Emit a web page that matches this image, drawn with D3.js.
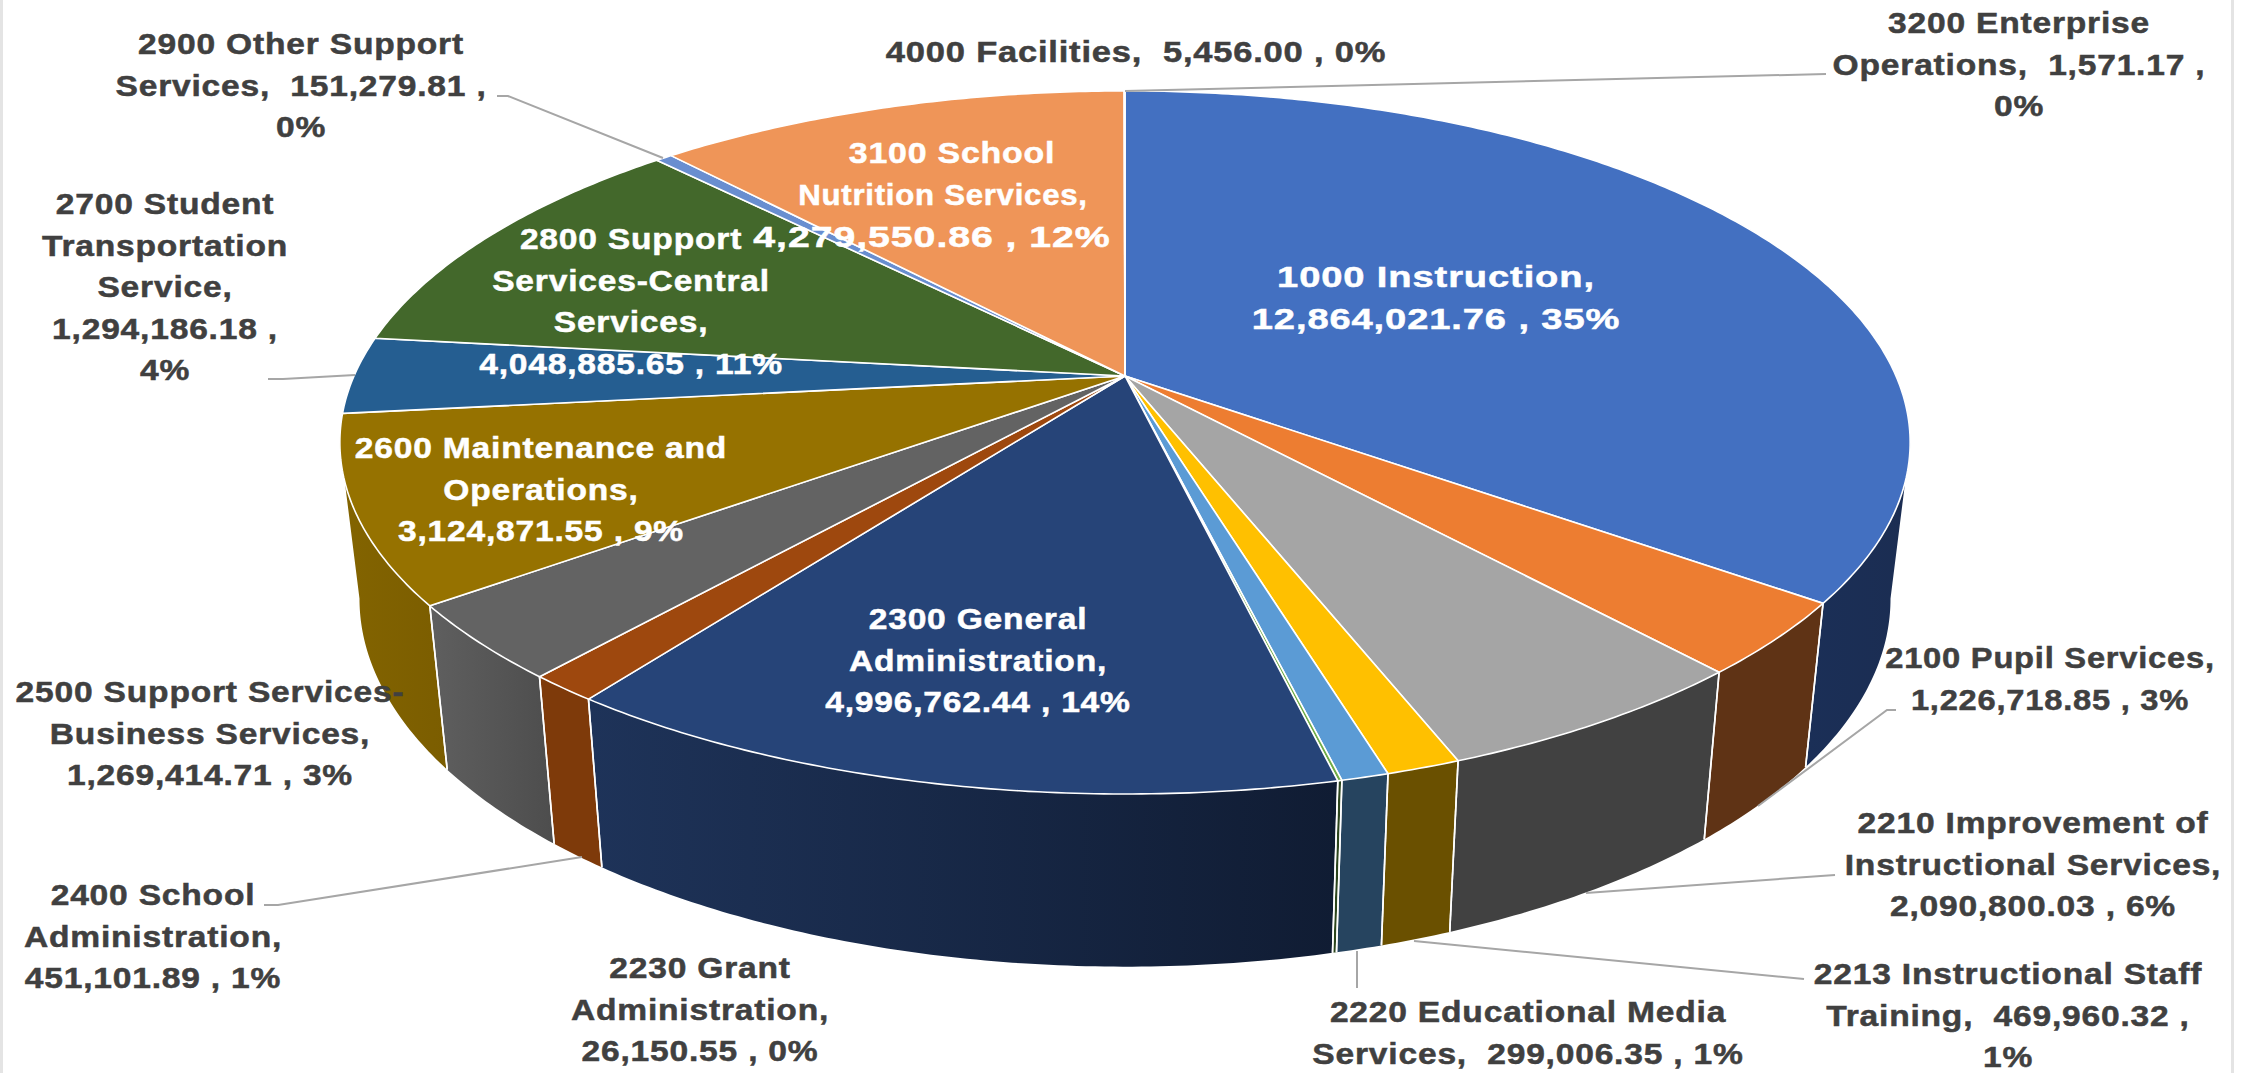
<!DOCTYPE html>
<html><head><meta charset="utf-8">
<script src="https://cdn.jsdelivr.net/npm/d3@7/dist/d3.min.js"></script>
<style>
html,body{margin:0;padding:0;background:#fff;overflow:hidden}
svg{display:block}
text{font-family:"Liberation Sans",Arial,sans-serif;font-weight:700;white-space:pre}
</style></head><body>
<svg id="chart" width="2252" height="1073"></svg>
<script>
// ---------- data ----------
const codes = ["1000 Instruction","2100 Pupil Services","2210 Improvement of Instructional Services","2213 Instructional Staff Training","2220 Educational Media Services","2230 Grant Administration","2300 General Administration","2400 School Administration","2500 Support Services-Business Services","2600 Maintenance and Operations","2700 Student Transportation Service","2800 Support Services-Central Services","2900 Other Support Services","3100 School Nutrition Services","3200 Enterprise Operations","4000 Facilities"];
const values = [12864021.76,1226718.85,2090800.03,469960.32,299006.35,26150.55,4996762.44,451101.89,1269414.71,3124871.55,1294186.18,4048885.65,151279.81,4279550.86,1571.17,5456.00];
const topColors = ["#4370c1","#ed7d31","#a5a5a5","#ffc000","#5b9bd5","#70ad47","#264478","#9e480e","#636363","#967200","#255e91","#43682b","#698ed0","#ef9558","#b7b7b7","#ffcd33"];
const wallLeft  = ["#1b2f57","#5f3315","#414141","#6a5000","#26445f","#2c451c","#1e3359","#7e3a0a","#5f5f5f","#836400","#255e91","#43682b","#698ed0","#f1975a","#b7b7b7","#ffcd33"];
const wallRight = ["#1b2d52","#5f3315","#414141","#6a5000","#26445f","#2c451c","#101c33","#7e3a0a","#4d4d4d","#7b5d00","#255e91","#43682b","#698ed0","#f1975a","#b7b7b7","#ffcd33"];
const labelLines = [
 ["1000 Instruction,","12,864,021.76 , 35%"],
 ["2100 Pupil Services,","1,226,718.85 , 3%"],
 ["2210 Improvement of","Instructional Services,","2,090,800.03 , 6%"],
 ["2213 Instructional Staff","Training,  469,960.32 ,","1%"],
 ["2220 Educational Media","Services,  299,006.35 , 1%"],
 ["2230 Grant","Administration,","26,150.55 , 0%"],
 ["2300 General","Administration,","4,996,762.44 , 14%"],
 ["2400 School","Administration,","451,101.89 , 1%"],
 ["2500 Support Services-","Business Services,","1,269,414.71 , 3%"],
 ["2600 Maintenance and","Operations,","3,124,871.55 , 9%"],
 ["2700 Student","Transportation","Service,","1,294,186.18 ,","4%"],
 ["2800 Support","Services-Central","Services,","4,048,885.65 , 11%"],
 ["2900 Other Support","Services,  151,279.81 ,","0%"],
 ["3100 School","Nutrition Services,","4,279,550.86 , 12%"],
 ["3200 Enterprise","Operations,  1,571.17 ,","0%"],
 ["4000 Facilities,  5,456.00 , 0%"]
];
const labelFill = ["#fff","#404040","#404040","#404040","#404040","#404040","#fff","#404040","#404040","#fff","#404040","#fff","#404040","#fff","#404040","#404040"];
// label placement (centre x, centre y of first line)
const labelX = [1436,2050,2033,2008,1528,700,978,153,210,541,165,631,301,944,2019,1136];
const labelY = [277,658,823,974,1012,968,619,895,692,448,204,239,44,153,23,52];
// per-label horizontal stretch of the type and per-line shift, where a label departs from the rest
const labelStretch = [1.27,1.09,1.12,1.12,1.12,1.12,1.12,1.12,1.12,1.12,1.12,1.12,1.12,1.12,1.12,1.15];
const lineStretch = {13:[1.13,1.04,1.31]};
const lineShift = {13:[8,-1,-12]};
const leaders = [
 [[497,96],[508,96],[663,158]],
 [[268,379],[283,379],[355,375]],
 [[264,905],[278,905],[582,857]],
 [[1896,710],[1887,710],[1758,806]],
 [[1835,875],[1586,893]],
 [[1804,979],[1414,941]],
 [[1357,988],[1357,951]],
 [[1826,74],[1125,91]]
];

// ---------- geometry ----------
const W = 2252, H = 1073;
const cx = 1125, cy = 376, k = 0.189, R = 771, S = 339;
const wallXScale = 0.975, wallYScale = 1.047, wallYShift = 153;
const TAU = Math.PI * 2;
const silhouette = Math.acos(-k);          // angle where the rim turns away

function rimTop(a){
  const y = -Math.cos(a), w = 1 - k*y;
  return [R*Math.sin(a)/w, S*y/w];
}
function rimBottom(a){
  const p = rimTop(a);
  return [p[0]*wallXScale, p[1]*wallYScale + wallYShift];
}
const xScale = d3.scaleLinear().domain([0,1]).range([cx,cx+1]);
const yScale = d3.scaleLinear().domain([0,1]).range([cy,cy+1]);
const line = d3.line().x(d=>xScale(d[0])).y(d=>yScale(d[1]));

const pie = d3.pie().sort(null).value(d=>d).startAngle(0).endAngle(TAU);
const arcs = pie(values);

function samples(a0,a1){
  const n = Math.max(2,Math.ceil((a1-a0)/0.01));
  return d3.range(n+1).map(i=>a0+(a1-a0)*i/n);
}

const svg = d3.select("#chart");
svg.append("rect").attr("width",W).attr("height",H).attr("fill","#fff");
svg.append("rect").attr("x",0).attr("y",0).attr("width",3).attr("height",H).attr("fill","#e4e4e4");
svg.append("rect").attr("x",2231).attr("y",0).attr("width",3).attr("height",H).attr("fill","#e4e4e4");

const defs = svg.append("defs");
const gW = svg.append("g").attr("class","walls");
const gT = svg.append("g").attr("class","tops");
const gL = svg.append("g").attr("class","leaders");
const gX = svg.append("g").attr("class","labels");

// visible walls only
const vis = arcs.map((d,i)=>({i,a0:Math.max(d.startAngle,silhouette),a1:Math.min(d.endAngle,TAU-silhouette)}))
  .filter(d=>d.a1>d.a0);
vis.forEach(d=>{
  const as = samples(d.a0,d.a1);
  const pts = as.map(rimTop).concat(as.slice().reverse().map(rimBottom));
  const xs = pts.map(p=>xScale(p[0]));
  const id = "wall"+d.i;
  const g = defs.append("linearGradient").attr("id",id).attr("gradientUnits","userSpaceOnUse")
    .attr("x1",d3.min(xs)).attr("x2",d3.max(xs)).attr("y1",0).attr("y2",0);
  g.append("stop").attr("offset",0).attr("stop-color",wallLeft[d.i]);
  g.append("stop").attr("offset",1).attr("stop-color",wallRight[d.i]);
  gW.append("path").attr("d",line(pts)+"Z").attr("fill",`url(#${id})`).attr("stroke","none");
});
vis.forEach(d=>{
  [d.a0,d.a1].forEach(a=>{
    if(a===silhouette||a===TAU-silhouette) return;
    gW.append("path").attr("d",line([rimTop(a),rimBottom(a)])).attr("stroke","#fff").attr("stroke-width",1.6).attr("fill","none");
  });
});

// top faces
arcs.forEach((d,i)=>{
  const pts = [[0,0]].concat(samples(d.startAngle,d.endAngle).map(rimTop));
  gT.append("path").attr("d",line(pts)+"Z").attr("fill",topColors[i])
    .attr("stroke","#fff").attr("stroke-width",1.6).attr("stroke-linejoin","round");
});

// leader lines
gL.selectAll("path").data(leaders).join("path")
  .attr("d",d3.line()).attr("fill","none").attr("stroke","#a6a6a6").attr("stroke-width",2);

// labels
const lineGap = 41.5, fontSize = 30, spacing = 0.7;
labelLines.forEach((lines,i)=>{
  lines.forEach((s,j)=>{
    const st = lineStretch[i] ? lineStretch[i][j] : labelStretch[i];
    const dx = lineShift[i] ? lineShift[i][j] : 0;
    gX.append("text")
      .attr("transform",`translate(${labelX[i]+dx},${labelY[i]+j*lineGap}) scale(${st},1)`)
      .attr("text-anchor","middle").attr("dominant-baseline","central")
      .attr("font-size",fontSize).attr("letter-spacing",spacing)
      .attr("fill",labelFill[i]).attr("stroke",labelFill[i]).attr("stroke-width",0.5).text(s);
  });
});
</script></body></html>
